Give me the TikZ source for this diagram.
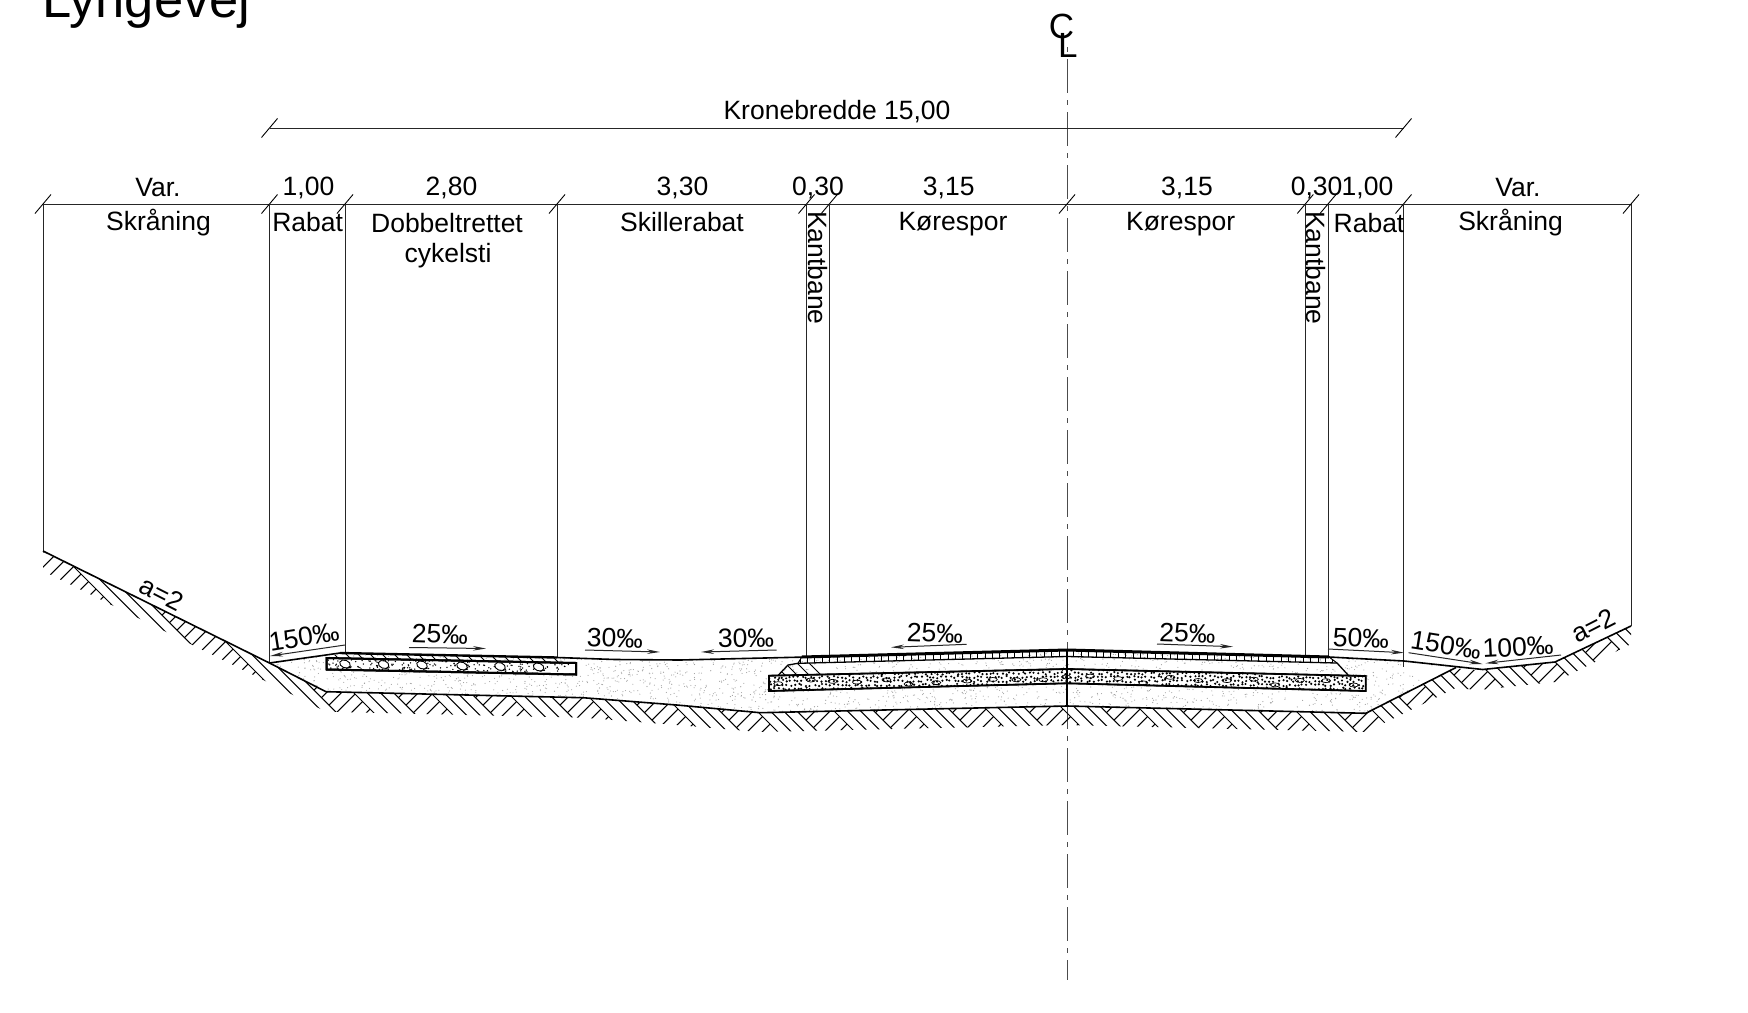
\documentclass[tikz,border=0pt]{standalone}
\usepackage{fontspec}
\setmainfont{Liberation Sans}
\usetikzlibrary{arrows.meta}
\tikzset{
  lab/.style={inner sep=0pt,font=\fontsize{26.5}{30}\selectfont},
  thin line/.style={line width=0.9pt,black!85},
  edge line/.style={line width=1.6pt,black},
  hatch line/.style={line width=1.05pt,black},
  slope arrow/.style={line width=1pt,black!85,-{Stealth[length=13pt,width=4.5pt]}},
  tick mark/.style={line width=0.9pt,black},
}
\newcommand{\dimtick}[2]{\draw[tick mark] (#1-8,#2+9.5) -- (#1+8,#2-9.5);}
\begin{document}
\begin{tikzpicture}[x=1pt,y=-1pt]
\useasboundingbox (0,0) rectangle (1748,1012);
\clip (0,0) rectangle (1748,1012);
\fill[white] (0,0) rectangle (1748,1012);
% title
\node[anchor=base west,inner sep=0pt,font=\fontsize{52.5}{56}\selectfont] (title) at (42,17) {Lyngevej};
% centre line
\draw[line width=1pt,black!70,dash pattern=on 34pt off 7pt on 5pt off 7pt,dash phase=41pt] (1067,47) -- (1067,980);
\node[anchor=base,inner sep=0pt,font=\fontsize{35}{38}\selectfont] (clc) at (1061.5,38) {C};
\node[anchor=base west,inner sep=0pt,font=\fontsize{35}{38}\selectfont] (cll) at (1058,57) {L};
% dimension lines
\coordinate (d0) at (43,204); \coordinate (d1) at (1631,204);
\draw[thin line] (d0) -- (d1);
\coordinate (t0) at (269.5,128); \coordinate (t1) at (1403.5,128);
\draw[thin line] (t0) -- (t1);
\foreach \x in {269.5,1403.5} {\dimtick{\x}{128}}
\foreach \x in {43,269.5,345,557,806.5,829.3,1067,1305.3,1328,1403.5,1631} {\dimtick{\x}{204}}
% verticals
\draw[thin line]
 (43,204) -- (43,551)
 (269.5,204) -- (269.5,663)
 (345,204) -- (345,653)
 (557,204) -- (557,657)
 (806.5,204) -- (806.5,657)
 (829.3,204) -- (829.3,656)
 (1305.3,204) -- (1305.3,656)
 (1328,204) -- (1328,658)
 (1403.5,204) -- (1403.5,667)
 (1631,204) -- (1631,626);
% sand
\begin{scope}
\clip (269.5,663) -- (340,653) -- (557,657.5) -- (680,660) -- (807,657) -- (1067,650) -- (1329,657) -- (1404,661) -- (1456,667.5)
  -- (1365.7,713.3) -- (1067,706) -- (760,712.7) -- (676.7,705) -- (600,699) -- (582.6,697.7) -- (326,691.7) -- cycle;
\pgfmathsetseed{7}
\foreach \i in {1,...,2700} {
  \pgfmathsetmacro\px{270+1190*rnd}
  \pgfmathsetmacro\py{650+65*rnd}
  \fill[black!38] (\px,\py) circle (0.55);
}
\end{scope}
% ground hatching
\begin{scope}
\clip (43,551) -- (269.5,663) -- (326,691.7) -- (582.6,697.7) -- (600,699) -- (676.7,705) -- (760,712.7) -- (1067,706) -- (1365.7,713.3) -- (1455.7,668.3) -- (1478.6,670.5) -- (1555,662) -- (1631,626)
  -- (1631,644) -- (1555,682) -- (1478.6,690) -- (1455.7,688) -- (1365.7,732) -- (1067,725) -- (760,732) -- (676.7,725) -- (600,719) -- (582.6,717.7) -- (326,711.7) -- (269.5,683) -- (43,571) -- cycle;
\foreach \k in {-1,...,19} {
  \pgfmathsetmacro\cc{-493+77*\k}
  \foreach \i in {0,...,3} {
    \pgfmathsetmacro\ci{\cc+13.3*\i}
    \draw[hatch line] (\ci+540,540) -- (\ci+740,740);
  }
  \foreach \j in {0,...,27} {
    \pgfmathsetmacro\yy{540+7.5*\j}
    \pgfmathsetmacro\xx{\cc+40+\yy}
    \draw[hatch line] (\xx,\yy) -- (\xx+18.5,\yy-18.5);
  }
}
\end{scope}
% cycle path thin layer hatching
\begin{scope}
\clip (340,653) -- (557,657.5) -- (566,663) -- (327,657.5) -- cycle;
\foreach \x in {330,342,...,570} {\draw[hatch line] (\x,650) -- (\x+14,664);}
\end{scope}
% cycle path layer
\draw[line width=2pt,fill=white] (326.6,658) -- (576,663) -- (576,674.5) -- (326.6,669.5) -- cycle;
\begin{scope}
\clip (326.6,658) -- (576,663) -- (576,674.5) -- (326.6,669.5) -- cycle;
\pgfmathsetseed{11}
\foreach \i in {1,...,320} {
  \pgfmathsetmacro\px{327+249*rnd}
  \pgfmathsetmacro\py{656+19*rnd}
  \fill[black] (\px,\py) circle (0.75);
}
\foreach \x/\y in {345/664,383.6/664.5,422/665,462/666,500/666.5,538.6/667} {
  \draw[line width=0.9pt,fill=white,rotate around={-20:(\x,\y)}] (\x,\y) ellipse (5.5 and 3.8);
  \draw[line width=0.8pt] (\x+1,\y+4.5) -- (\x+6,\y+3);
}
\end{scope}
\draw[line width=2pt] (326.6,658) -- (576,663) -- (576,674.5) -- (326.6,669.5) -- cycle;
% road base hatching
\begin{scope}
\clip (788,665) -- (798,663.3) -- (1067,656.5) -- (1337,663) -- (1348.5,675.5) -- (1067,669) -- (778,675.5) -- cycle;
\foreach \c in {0,12,...,700} {\draw[hatch line] (\c+100,650) -- (\c+130,680);}
\end{scope}
\draw[line width=1.3pt] (778,675.5) -- (788,665) -- (798,663.3) -- (1067,656.5) -- (1337,663) -- (1348.5,675.5);
% road block layer
\begin{scope}
\clip (801.7,657) -- (1067,650) -- (1329,657) -- (1337,663) -- (1067,656.5) -- (798,663.3) -- cycle;
\foreach \x in {800,807.4,...,1337} {\draw[line width=0.9pt] (\x,648) -- (\x,665);}
\end{scope}
\draw[line width=1pt] (798,663.3) -- (801.7,657) (1329,657) -- (1337,663);
% dense layer
\draw[line width=1.4pt,fill=white] (769,675.7) -- (1067,669) -- (1365.7,676) -- (1365.7,691) -- (1067,683.3) -- (769,691) -- cycle;
\begin{scope}
\clip (769,675.7) -- (1067,669) -- (1365.7,676) -- (1365.7,691) -- (1067,683.3) -- (769,691) -- cycle;
\foreach \i in {0,...,22} {
  \pgfmathsetmacro\px{778+26*\i+8*rnd}
  \pgfmathsetmacro\py{675+5*abs(\i-11)/11+7*rnd}
  \draw[line width=0.7pt,fill=white] (\px,\py) ellipse (4.5 and 2);
}
\pgfmathsetseed{23}
\foreach \ix in {0,...,148} {
  \foreach \iy in {0,...,6} {
    \pgfmathsetmacro\px{769+4*\ix+2.6*rnd}
    \pgfmathsetmacro\py{668+3.9*\iy+2.6*rnd}
    \fill[black] (\px,\py) circle (1.2);
  }
}
\end{scope}
\draw[line width=1.8pt] (769,675.7) -- (1067,669) -- (1365.7,676) -- (1365.7,691) -- (1067,683.3) -- (769,691) -- cycle;
% terrain lines
\draw[edge line,line join=round] (43,551) -- (269.5,663) -- (340,653);
\draw[line width=2.4pt] (340,653) -- (557,657.5);
\draw[edge line,line join=round] (557,657.5) -- (615,659.5) -- (680,660) -- (807,657);
\draw[line width=3pt] (801.7,657) -- (1067,650) -- (1329,657);
\draw[edge line,line join=round] (1329,657) -- (1404,661) -- (1482.7,669.5) -- (1555,662) -- (1631,626);
\draw[edge line,line join=round] (269.5,663) -- (326,691.7) -- (582.6,697.7) -- (600,699) -- (676.7,705) -- (760,712.7) -- (1067,706) -- (1365.7,713.3) -- (1456,667.5);
\draw[line width=1.2pt] (1067,650) -- (1067,706);
% slope arrows
\coordinate (a1s) at (345,645); \coordinate (a1e) at (270,656);
\coordinate (a2s) at (409,647.5); \coordinate (a2e) at (486,648.5);
\coordinate (a3s) at (585,650); \coordinate (a3e) at (660,652);
\coordinate (a4s) at (776.7,650); \coordinate (a4e) at (701,652);
\coordinate (a5s) at (966.7,644.3); \coordinate (a5e) at (891,647.3);
\coordinate (a6s) at (1157,644); \coordinate (a6e) at (1233,646.7);
\coordinate (a7s) at (1328,649); \coordinate (a7e) at (1404,652.7);
\coordinate (a8s) at (1408.6,652.7); \coordinate (a8e) at (1482.5,664);
\coordinate (a9s) at (1561,655); \coordinate (a9e) at (1485.5,663.3);
\foreach \n in {1,...,9} {\draw[slope arrow] (a\n s) -- (a\n e);}
% labels
\node[lab] (kb) at (837,112) {Kronebredde 15,00};
\node[lab] (v1) at (158,188) {Var.};
\node[lab] (m1) at (308.5,188) {1,00};
\node[lab] (m2) at (451.5,188) {2,80};
\node[lab] (m3) at (682.5,188) {3,30};
\node[lab] (m4) at (818,188) {0,30};
\node[lab] (m5) at (948.7,188) {3,15};
\node[lab] (m6) at (1187,188) {3,15};
\node[lab] (m7) at (1316.6,188) {0,30};
\node[lab] (m8) at (1367.5,188) {1,00};
\node[lab] (v2) at (1518,188) {Var.};
\node[lab] (s1) at (158.5,223) {Skråning};
\node[lab] (r1) at (307.7,222.5) {Rabat};
\node[lab] (c1) at (447,223.5) {Dobbeltrettet};
\node[lab] (c2) at (448,256) {cykelsti};
\node[lab] (sk) at (682,222.5) {Skillerabat};
\node[lab,rotate=-90] (kb1) at (817.5,268) {Kantbane};
\node[lab] (k1) at (953,224) {Kørespor};
\node[lab] (k2) at (1180.6,224) {Kørespor};
\node[lab,rotate=-90] (kb2) at (1316,268) {Kantbane};
\node[lab] (r2) at (1369,223.5) {Rabat};
\node[lab] (s2) at (1510.6,223) {Skråning};
\node[lab,rotate=-27] (a1) at (162,594) {a=2};
\node[lab,rotate=9] (p1) at (304,637) {150‰};
\node[lab,rotate=-2] (p2) at (440,634) {25‰};
\node[lab,rotate=-2] (p3) at (615,638) {30‰};
\node[lab,rotate=1] (p4) at (746,638) {30‰};
\node[lab,rotate=-2] (p5) at (935,633) {25‰};
\node[lab,rotate=-2] (p6) at (1187.5,633) {25‰};
\node[lab,rotate=-2] (p7) at (1361,638) {50‰};
\node[lab,rotate=-9] (p8) at (1446,645) {150‰};
\node[lab,rotate=3] (p9) at (1518,647) {100‰};
\node[lab,rotate=27] (a2) at (1593,625.5) {a=2};
\end{tikzpicture}
\end{document}
